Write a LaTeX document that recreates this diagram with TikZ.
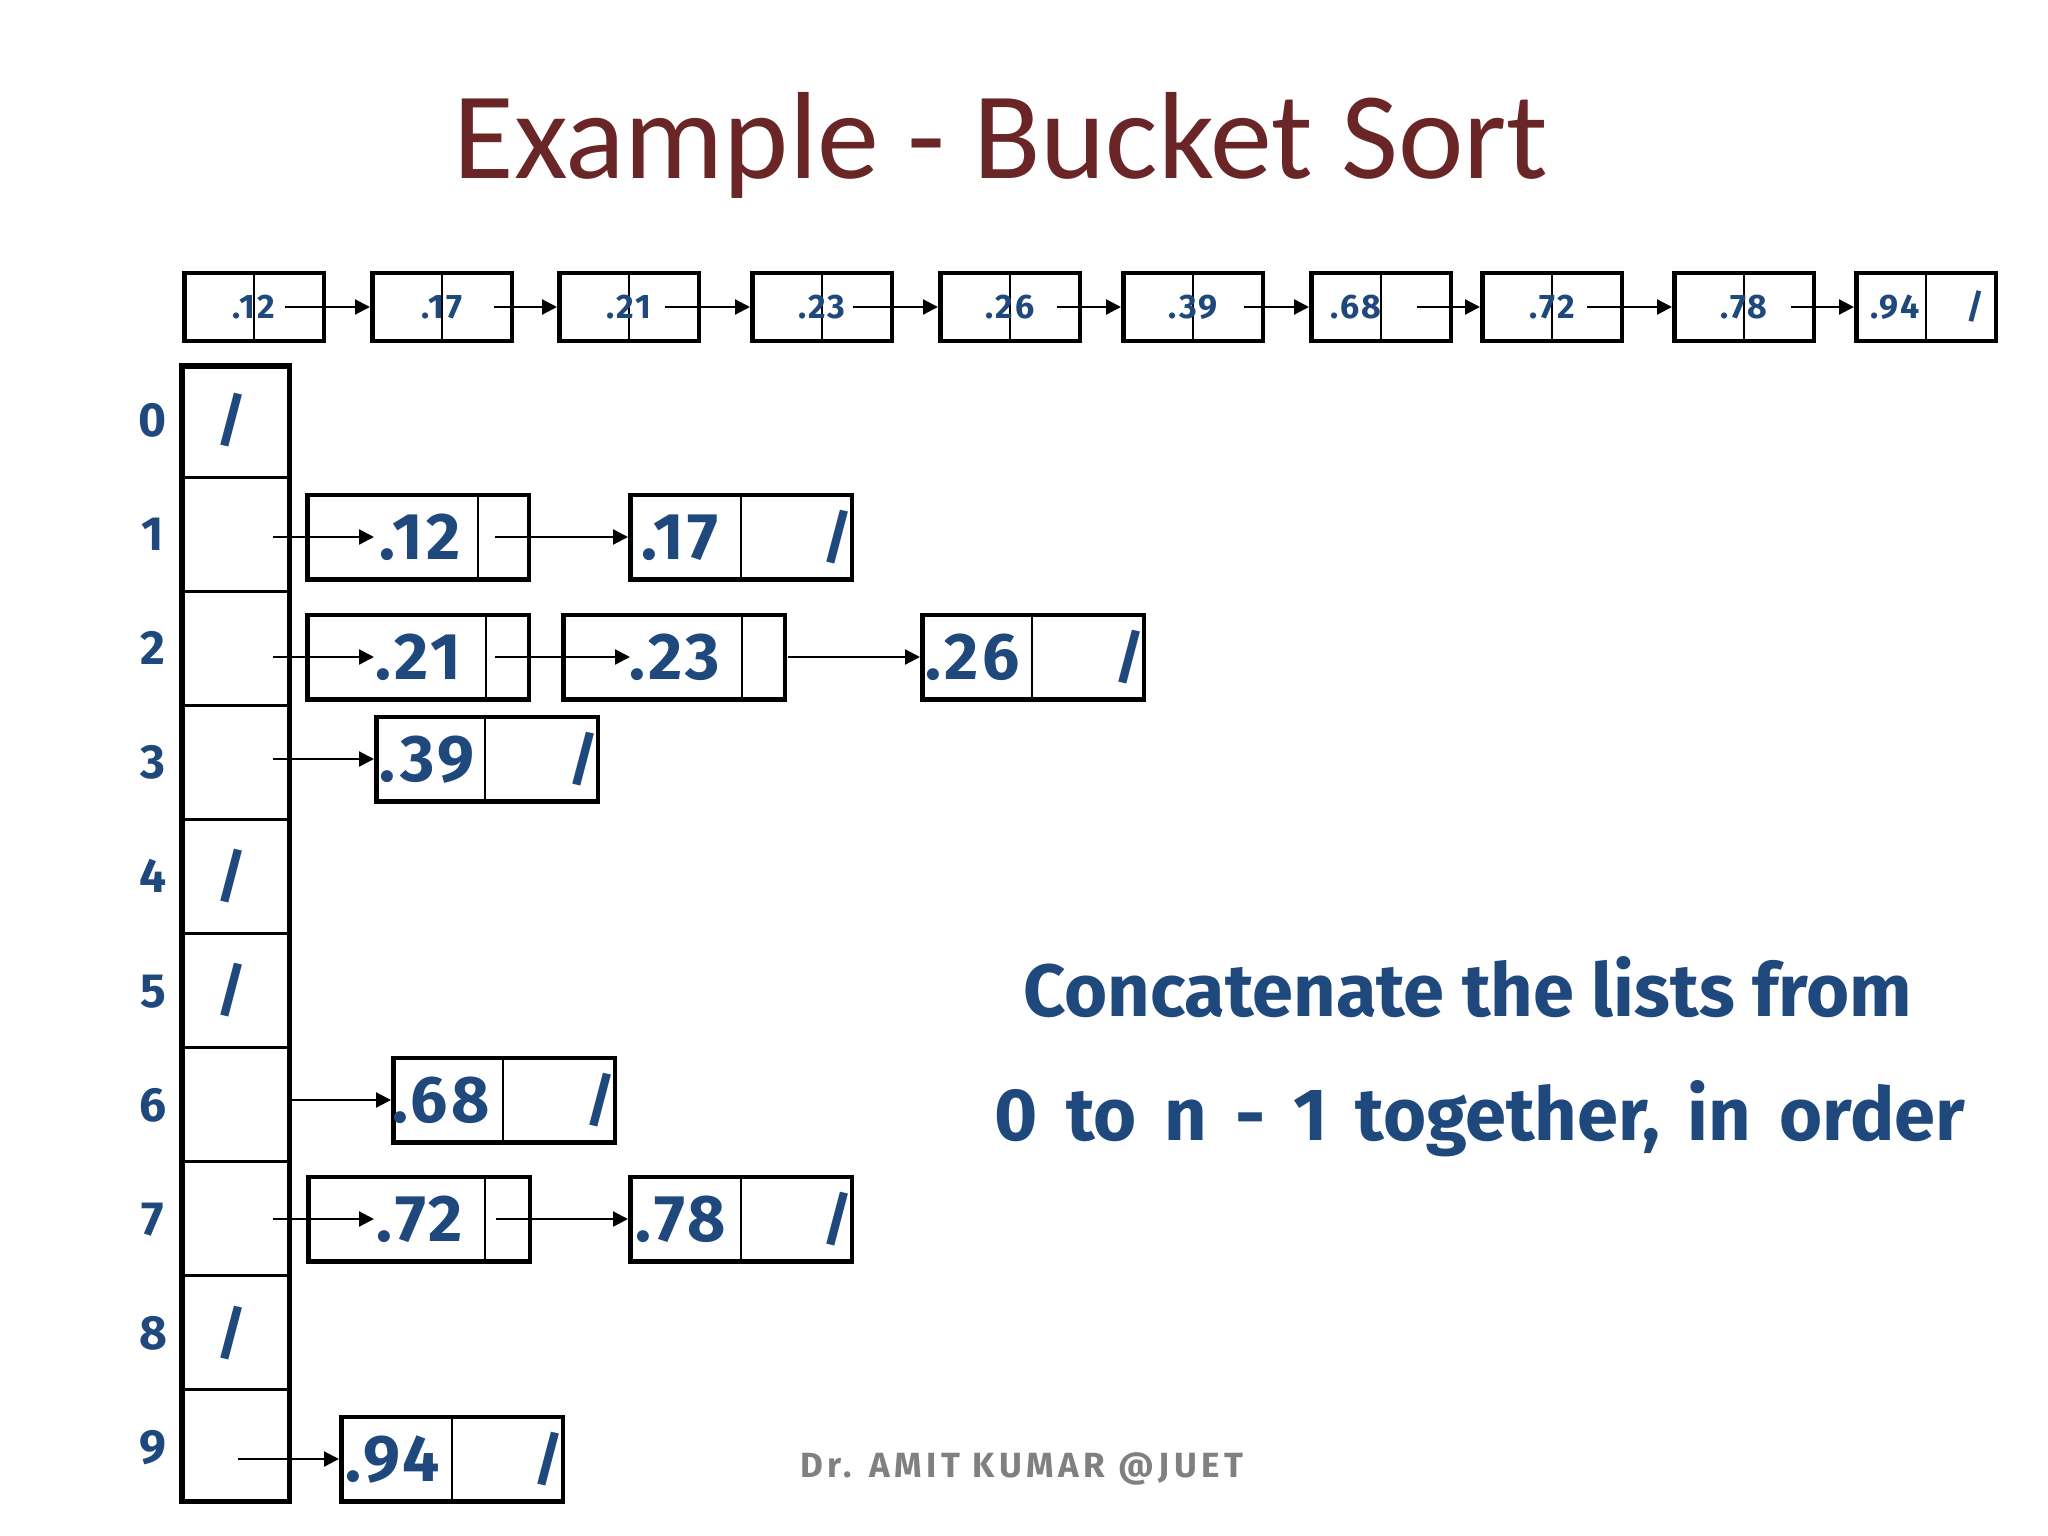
\documentclass[tikz,border=0pt]{standalone}
\usepackage{fontspec}
\setmainfont{Carlito}
\newfontfamily\comic{Fira Sans}
\newfontfamily\comicnum{Fira Sans}[LetterSpace=5]
\newfontfamily\comicsmall{Fira Sans}[LetterSpace=6]
\newfontfamily\comicfoot{Fira Sans}[LetterSpace=13]
\usetikzlibrary{arrows.meta}
\definecolor{ttl}{HTML}{6A2627}
\definecolor{blu}{HTML}{1F497D}
\definecolor{gry}{HTML}{808080}
\tikzset{
 cellbox/.style={draw=black, line width=4.5pt, rectangle, inner sep=0pt, minimum width=139.5pt, minimum height=68pt},
 listbox/.style={draw=black, line width=4.5pt, rectangle, inner sep=0pt, minimum width=221.5pt, minimum height=84.5pt},
 divline/.style={line width=1.8pt},
 rowline/.style={line width=3pt},
 arr/.style={line width=2.2pt, -{Triangle[length=15pt,width=15pt]}},
 smalltxt/.style={font=\comicsmall\bfseries\fontsize{34}{34}\selectfont, text=blu, inner sep=0pt, anchor=base},
 bigtxt/.style={font=\comicnum\bfseries\fontsize{66}{66}\selectfont, text=blu, inner sep=0pt, anchor=base},
 idxtxt/.style={font=\comic\bfseries\fontsize{48}{48}\selectfont, text=blu, inner sep=0pt, anchor=base},
 slashtxt/.style={font=\comic\bfseries\fontsize{58}{58}\selectfont, text=blu, inner sep=0pt, anchor=center},
 remark/.style={font=\comic\bfseries\fontsize{74}{74}\selectfont, text=blu, inner sep=0pt, anchor=base},
}
\begin{document}
\begin{tikzpicture}[x=1pt,y=-1pt]
\fill[white] (0,0) rectangle (2048,1536);
\useasboundingbox (0,0) rectangle (2048,1536);

% title
\node[anchor=base, font=\fontsize{124}{124}\selectfont, text=ttl, inner sep=0pt] (title) at (1001,178.3) {Example - Bucket Sort};

% top sorted list
\foreach \i/\lx/\v/\tx in {1/182/.12/254, 2/370/.17/442, 3/557/.21/629, 4/750/.23/822, 5/938/.26/1010, 6/1121/.39/1193, 7/1309/.68/1356, 8/1480/.72/1552, 9/1672/.78/1744, 10/1854/.94/1895}
{
  \node[cellbox] (t\i) at (\lx+72,307) {};
  \draw[divline] (t\i.north) -- (t\i.south);
  \node[smalltxt] (tv\i) at (\tx,318) {\v};
}
\node[smalltxt] (tslash) at (1975,318) {/};
\foreach \i/\as in {1/285, 2/494, 3/665, 4/853, 5/1057, 6/1244, 7/1417, 8/1587, 9/1791}
{
  \pgfmathtruncatemacro\j{\i+1}
  \coordinate (ts\i) at (\as,307);
  \draw[arr] (ts\i) -- (t\j.west);
}

% bucket array
\node[draw=black, line width=5.5pt, rectangle, inner sep=0pt, minimum width=107.5pt, minimum height=1135.5pt] (bk) at (235.5,933.5) {};
\foreach \k in {1,...,9}
  \draw[rowline] (179,363+114.1*\k) -- (292,363+114.1*\k);
\foreach \k in {0,...,9}
  \node[idxtxt] (ix\k) at (153,363+114.1*\k+73.5) {\k};
\foreach \k in {0,4,5,8}
  \node[slashtxt] (bs\k) at (232,363+114.1*\k+57) {/};

% bucket lists
\foreach \n/\lx/\cy/\dv/\tx/\v in {12/305/537/173/420/.12, 17/628/537/113/680/.17, 21/305/657/181/418/.21, 23/561/657/181/674.5/.23, 26/920/657/112/972.5/.26, 39/374/759/111/427/.39, 68/391/1100/112/441/.68, 72/306/1219/179/419.5/.72, 78/628/1219/113/681/.78, 94/339/1459/113/393/.94}
{
  \node[listbox] (n\n) at (\lx+113,\cy) {};
  \draw[divline] (\lx+\dv,\cy-44) -- (\lx+\dv,\cy+44);
  \node[bigtxt] (v\n) at (\tx,\cy+22.5) {\v};
}

% terminal slashes
\node[slashtxt] (sl17) at (838,537) {/};
\node[slashtxt] (sl26) at (1130,657) {/};
\node[slashtxt] (sl39) at (584,759) {/};
\node[slashtxt] (sl68) at (601,1100) {/};
\node[slashtxt] (sl78) at (838,1219) {/};
\node[slashtxt] (sl94) at (549,1459) {/};

% arrows
\coordinate (b1) at (273,537);  \coordinate (e12) at (374,537);
\coordinate (b2) at (273,657);  \coordinate (e21) at (374,657);
\coordinate (b3) at (273,759);
\coordinate (b6) at (290,1100);
\coordinate (b7) at (273,1219); \coordinate (e72) at (374,1219);
\coordinate (b9) at (238,1459);
\coordinate (o12) at (495,537);
\coordinate (o21) at (495,657); \coordinate (e23) at (630,657);
\coordinate (o23) at (788,657);
\coordinate (o72) at (496,1219);
\draw[arr] (b1) -- (e12);
\draw[arr] (o12) -- (n17.west);
\draw[arr] (b2) -- (e21);
\draw[arr] (o21) -- (e23);
\draw[arr] (o23) -- (n26.west);
\draw[arr] (b3) -- (n39.west);
\draw[arr] (b6) -- (n68.west);
\draw[arr] (b7) -- (e72);
\draw[arr] (o72) -- (n78.west);
\draw[arr] (b9) -- (n94.west);

% remark
\node[remark] (c1) at (1467.5,1016) {Concatenate the lists from};
\node[remark] (c2) at (1480,1140) {\spaceskip=28pt 0 to n - 1 together, in order};

% footer
\node[anchor=base, font=\comicfoot\bfseries\fontsize{35}{35}\selectfont, text=gry, inner sep=0pt] (ft) at (1022,1477) {Dr. AMIT KUMAR @JUET};
\end{tikzpicture}
\end{document}
